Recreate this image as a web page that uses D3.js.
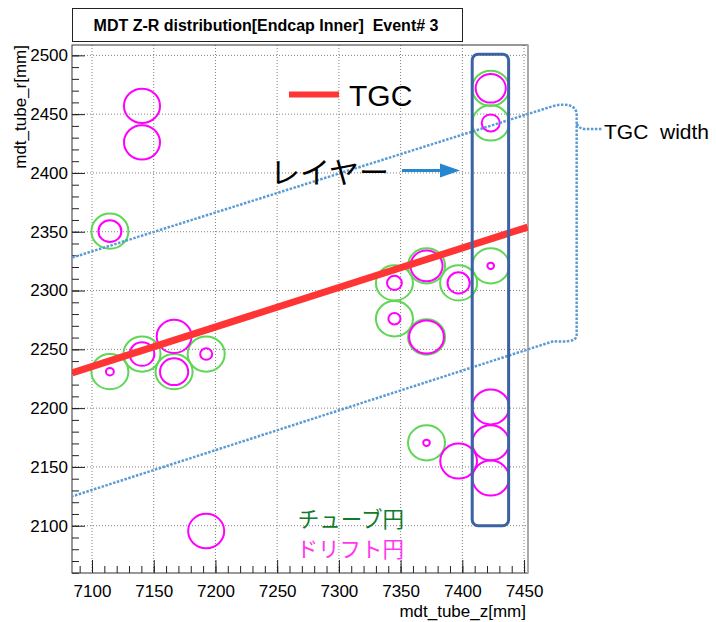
<!DOCTYPE html>
<html>
<head>
<meta charset="utf-8">
<script src="https://cdn.jsdelivr.net/npm/d3@7"></script>
<style>
body { margin: 0; background: #fff; }
svg { display: block; font-family: "Liberation Sans", Arial, Helvetica, sans-serif; }
</style>
</head>
<body>
<div id="chart"></div>
<script>
// tube circles (green), z / r in mm
var tubeZ = [7114.5, 7114.5, 7140.5, 7166.5, 7192.5, 7345, 7345, 7371, 7397, 7423, 7371, 7371, 7423, 7423];
var tubeR = [2350.5, 2231, 2246, 2231, 2246, 2306.5, 2276, 2321, 2306.5, 2321, 2260.5, 2170.5, 2472, 2442.5];
var tubeRadius = 15;

// drift circles (magenta)
var hitZ = [7114.5, 7140.5, 7140.5, 7114.5, 7140.5, 7166.5, 7166.5, 7192.5, 7192.5, 7345, 7345,
            7371, 7397, 7423, 7371, 7371, 7397, 7423, 7423, 7423, 7423, 7423];
var hitR = [2350.5, 2457, 2426, 2231, 2246, 2261, 2231, 2246, 2095.5, 2306.5, 2276,
            2321, 2306.5, 2321, 2260.5, 2170.5, 2155, 2201, 2170.5, 2140.5, 2472, 2442.5];
var driftR = [9.3, 14.6, 14.6, 3.2, 10, 14.1, 11.4, 4.9, 14.6, 6, 4.9,
              13, 9, 2.7, 14.1, 2.7, 14.9, 14.9, 14.9, 14.9, 12.2, 7.3];

// TGC track and its width band
var tgcZ = [7084, 7453];
var tgcR = [2230, 2354];
var bandZ = [7084, 7474];
var bandUpperR = [2328, 2457];
var bandLowerR = [2125, 2257];

// highlighted layer
var layerZ = [7408, 7437.5];
var layerR = [2100, 2501];

var xTicks = [7100, 7150, 7200, 7250, 7300, 7350, 7400, 7450];
var yTicks = [2100, 2150, 2200, 2250, 2300, 2350, 2400, 2450, 2500];
var xMinor = d3.range(7090, 7451, 10);
var yMinor = d3.range(2060, 2501, 10);

var width = 716, height = 622;
var frame = {left: 72, right: 528, top: 45, bottom: 573};

var x = d3.scaleLinear().domain([7083.8, 7453.2]).range([frame.left, frame.right]);
var y = d3.scaleLinear().domain([2059.8, 2508.8]).range([frame.bottom, frame.top]);

var svg = d3.select("#chart")
    .append("svg")
    .attr("width", width)
    .attr("height", height);

svg.append("defs").append("clipPath")
    .attr("id", "plotClip")
    .append("rect")
    .attr("x", frame.left)
    .attr("y", frame.top)
    .attr("width", frame.right - frame.left)
    .attr("height", frame.bottom - frame.top);

// title box
svg.append("rect")
    .attr("x", 72.5)
    .attr("y", 8.5)
    .attr("width", 390)
    .attr("height", 33)
    .style("fill", "#fff")
    .style("stroke", "#222")
    .style("stroke-width", 1);
svg.append("text")
    .attr("x", 266)
    .attr("y", 30.5)
    .attr("text-anchor", "middle")
    .attr("font-size", "16px")
    .attr("font-weight", "bold")
    .style("white-space", "pre")
    .text("MDT Z-R distribution[Endcap Inner]  Event# 3");

// grid
svg.append("g").selectAll("line")
    .data(xTicks)
    .enter().append("line")
    .attr("x1", function(d){ return x(d) })
    .attr("x2", function(d){ return x(d) })
    .attr("y1", frame.top)
    .attr("y2", frame.bottom)
    .style("stroke", "#808080")
    .style("stroke-dasharray", "1,2");
svg.append("g").selectAll("line")
    .data(yTicks)
    .enter().append("line")
    .attr("x1", frame.left)
    .attr("x2", frame.right)
    .attr("y1", function(d){ return y(d) })
    .attr("y2", function(d){ return y(d) })
    .style("stroke", "#808080")
    .style("stroke-dasharray", "1,2");

// axes (ticks pointing inward)
var xAxis = svg.append("g")
    .attr("transform", "translate(0," + frame.bottom + ")")
    .call(d3.axisBottom(x).tickValues(xTicks).tickSize(-13).tickPadding(12).tickFormat(d3.format("d")));
svg.append("g")
    .attr("transform", "translate(0," + frame.bottom + ")")
    .call(d3.axisBottom(x).tickValues(xMinor).tickSize(-7).tickFormat(""))
    .select(".domain").remove();
var yAxis = svg.append("g")
    .attr("transform", "translate(" + frame.left + ",0)")
    .call(d3.axisLeft(y).tickValues(yTicks).tickSize(-13).tickPadding(4).tickFormat(d3.format("d")));
svg.append("g")
    .attr("transform", "translate(" + frame.left + ",0)")
    .call(d3.axisLeft(y).tickValues(yMinor).tickSize(-7).tickFormat(""))
    .select(".domain").remove();
[xAxis, yAxis].forEach(function(a){
    a.select(".domain").remove();
    a.attr("font-family", "Liberation Sans, Arial, sans-serif").attr("font-size", 17);
});
svg.selectAll(".tick line").style("stroke", "#222");

// frame
svg.append("rect")
    .attr("x", frame.left)
    .attr("y", frame.top)
    .attr("width", frame.right - frame.left)
    .attr("height", frame.bottom - frame.top)
    .style("fill", "none")
    .style("stroke", "#333")
    .style("stroke-width", 1);
svg.append("line")
    .attr("x1", frame.right)
    .attr("x2", frame.right)
    .attr("y1", frame.top)
    .attr("y2", frame.bottom)
    .style("stroke", "#aaa")
    .style("stroke-width", 2);

// axis titles
svg.append("text")
    .attr("transform", "translate(26," + frame.top + ") rotate(-90)")
    .attr("text-anchor", "end")
    .attr("font-size", "17px")
    .text("mdt_tube_r[mm]");
svg.append("text")
    .attr("x", frame.right - 2)
    .attr("y", 617)
    .attr("text-anchor", "end")
    .attr("font-size", "17px")
    .text("mdt_tube_z[mm]");

var plot = svg.append("g").attr("clip-path", "url(#plotClip)");

// tube circles
plot.append("g").selectAll("ellipse")
    .data(d3.range(tubeZ.length))
    .enter().append("ellipse")
    .attr("cx", function(i){ return x(tubeZ[i]) })
    .attr("cy", function(i){ return y(tubeR[i]) })
    .attr("rx", function(i){ return x(tubeZ[i] + tubeRadius) - x(tubeZ[i]) })
    .attr("ry", function(i){ return y(tubeR[i] - tubeRadius) - y(tubeR[i]) })
    .style("fill", "none")
    .style("stroke", "#5fd655")
    .style("stroke-width", 2);

// drift circles
plot.append("g").selectAll("ellipse")
    .data(d3.range(hitZ.length))
    .enter().append("ellipse")
    .attr("cx", function(i){ return x(hitZ[i]) })
    .attr("cy", function(i){ return y(hitR[i]) })
    .attr("rx", function(i){ return x(hitZ[i] + driftR[i]) - x(hitZ[i]) })
    .attr("ry", function(i){ return y(hitR[i] - driftR[i]) - y(hitR[i]) })
    .style("fill", "none")
    .style("stroke", "#ff00ff")
    .style("stroke-width", 2);

// TGC track
plot.append("line")
    .attr("x1", x(tgcZ[0]))
    .attr("y1", y(tgcR[0]))
    .attr("x2", x(tgcZ[1]))
    .attr("y2", y(tgcR[1]))
    .style("stroke", "#ff3535")
    .style("stroke-width", 7);

// TGC width band with bracket
var blueDot = "#5b9bd5";
var ux = x(bandZ[1]), uy = y(bandUpperR[1]);
var lx = x(bandZ[1]), ly = y(bandLowerR[1]);
var bx = ux + 23;
svg.append("path")
    .attr("d", "M" + x(bandZ[0]) + "," + y(bandUpperR[0]) + "L" + ux + "," + uy
        + "C" + (ux + 12) + "," + (uy - 3) + " " + bx + "," + (uy - 1) + " " + bx + "," + (uy + 9)
        + "L" + bx + "," + (ly - 6)
        + "C" + bx + "," + (ly + 1) + " " + (lx + 10) + "," + (ly + 1) + " " + lx + "," + ly
        + "L" + x(bandZ[0]) + "," + y(bandLowerR[0]))
    .style("fill", "none")
    .style("stroke", blueDot)
    .style("stroke-width", 2.5)
    .style("stroke-dasharray", "2.5,1.5");
svg.append("path")
    .attr("d", "M" + bx + "," + 124 + "Q" + (bx + 3) + "," + 129 + " " + (bx + 8) + "," + 129 + "L" + (bx + 26) + "," + 129)
    .style("fill", "none")
    .style("stroke", blueDot)
    .style("stroke-width", 2.5)
    .style("stroke-dasharray", "2.5,1.5");
svg.append("text")
    .attr("x", 604)
    .attr("y", 139)
    .attr("font-size", "21px")
    .style("white-space", "pre")
    .text("TGC  width");

// highlighted layer box
svg.append("rect")
    .attr("x", x(layerZ[0]))
    .attr("y", y(layerR[1]))
    .attr("width", x(layerZ[1]) - x(layerZ[0]))
    .attr("height", y(layerR[0]) - y(layerR[1]))
    .attr("rx", 6)
    .style("fill", "none")
    .style("stroke", "#3b63a3")
    .style("stroke-width", 3);

// legend: TGC
svg.append("line")
    .attr("x1", 289)
    .attr("x2", 339)
    .attr("y1", 94.5)
    .attr("y2", 94.5)
    .style("stroke", "#ff3535")
    .style("stroke-width", 6);
svg.append("text")
    .attr("x", 349)
    .attr("y", 106)
    .attr("font-size", "30px")
    .text("TGC");

// layer label + arrow
svg.append("text")
    .attr("x", 270)
    .attr("y", 183)
    .attr("font-family", "Noto Sans CJK JP, sans-serif")
    .attr("font-size", "30px")
    .text("レイヤー");
svg.append("line")
    .attr("x1", 402)
    .attr("x2", 442)
    .attr("y1", 170.5)
    .attr("y2", 170.5)
    .style("stroke", "#2487cf")
    .style("stroke-width", 3);
svg.append("path")
    .attr("d", "M440,163.5L460,170.5L440,177.5Z")
    .style("fill", "#2487cf");

// legend: circles
svg.append("text")
    .attr("x", 404)
    .attr("y", 527)
    .attr("text-anchor", "end")
    .attr("font-family", "Noto Sans CJK JP, sans-serif")
    .attr("font-size", "21.5px")
    .style("fill", "#117a2c")
    .text("チューブ円");
svg.append("text")
    .attr("x", 404)
    .attr("y", 557)
    .attr("text-anchor", "end")
    .attr("font-family", "Noto Sans CJK JP, sans-serif")
    .attr("font-size", "21.5px")
    .style("fill", "#ff38f0")
    .text("ドリフト円");
</script>
</body>
</html>
